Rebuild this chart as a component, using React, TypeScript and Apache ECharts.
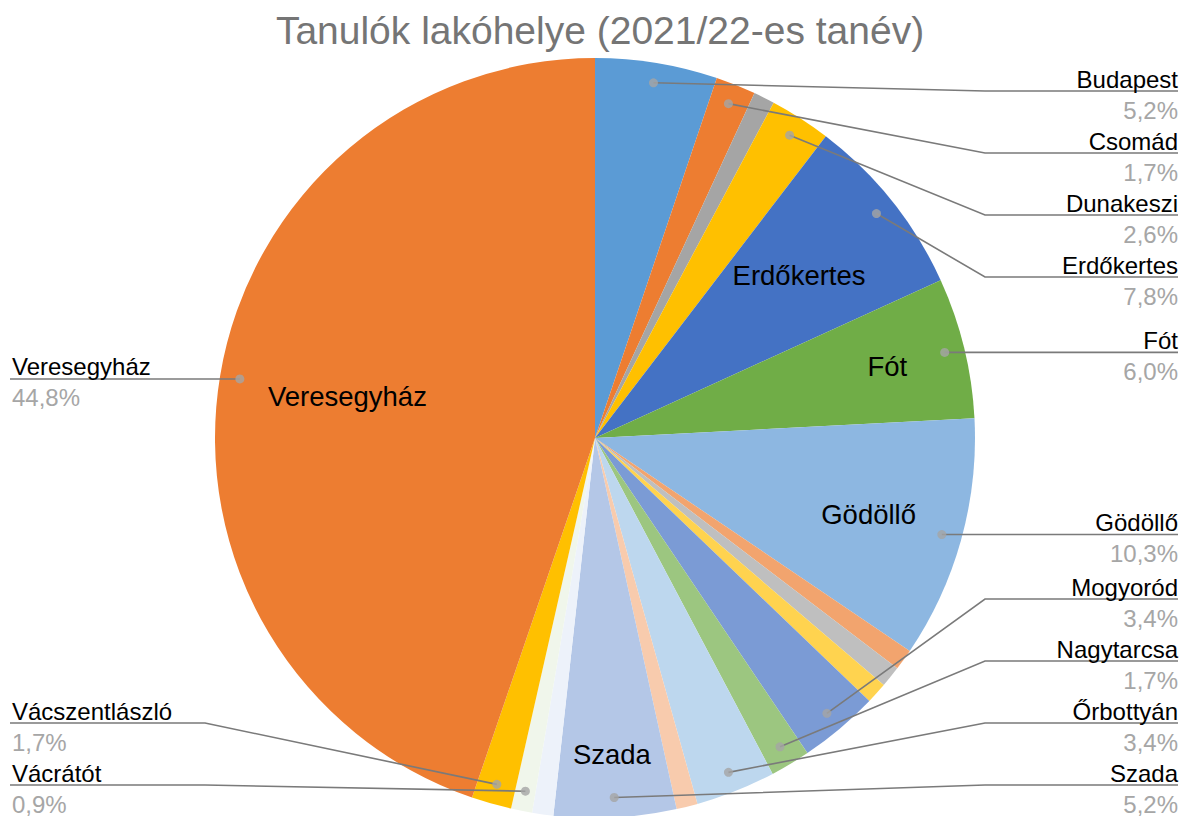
import React, { useEffect, useRef } from "react";
import * as echarts from "echarts";

// ---- data ----
const chartTitle = "Tanulók lakóhelye (2021/22-es tanév)";
const places = [
  "Budapest", "Csomád", "Csömör", "Dunakeszi", "Erdőkertes", "Fót", "Gödöllő",
  "Isaszeg", "Kerepes", "Kistarcsa", "Mogyoród", "Nagytarcsa", "Őrbottyán",
  "Pécel", "Szada", "Sződ", "Vácrátót", "Vácszentlászló", "Veresegyház",
];
const shares = [
  5.2, 1.7, 0.9, 2.6, 7.8, 6.0, 10.3,
  0.9, 0.9, 0.9, 3.4, 1.7, 3.4,
  0.9, 5.2, 0.9, 0.9, 1.7, 44.8,
];
const outerLabelled = [
  "Budapest", "Csomád", "Dunakeszi", "Erdőkertes", "Fót", "Gödöllő", "Mogyoród",
  "Nagytarcsa", "Őrbottyán", "Szada", "Vácrátót", "Vácszentlászló", "Veresegyház",
];
const innerLabelled = ["Erdőkertes", "Fót", "Gödöllő", "Szada", "Veresegyház"];

// ---- styles / layout ----
const sliceColors = [
  "#5B9BD5", "#ED7D31", "#A5A5A5", "#FFC000", "#4472C4", "#70AD47", "#8DB7E1",
  "#F2A46E", "#BFBFBF", "#FFD34F", "#7B9BD5", "#9CC680", "#BDD7EE",
  "#F8CBAD", "#B4C7E7", "#EDF2FA", "#F0F6EB", "#FFC000", "#ED7D31",
];
const W = 1181;
const H = 816;
const CX = 595;
const CY = 438;
const R = 380;
const DOT_R = 360;
const ELBOW_RIGHT = 985;
const ELBOW_LEFT = 205;
const LABEL_TOP = 91;
const LABEL_BOTTOM = 785;
const LABEL_GAP = 62;
const TEXT_RIGHT = W - 3;
const TEXT_LEFT = 12;
const LINE_LEFT = 10;
const innerLabelRadius: Record<string, number> = {
  Veresegyház: 251, Erdőkertes: 261, Fót: 301, Gödöllő: 284, Szada: 317,
};
const FONT = "'Liberation Sans', Arial, sans-serif";

const fmtPct = (v: number) => v.toFixed(1).replace(".", ",") + "%";

function stackSide(items: { name: string; ideal: number }[]) {
  const sorted = [...items].sort((a, b) => a.ideal - b.ideal);
  const ys = sorted.map((s) => s.ideal);
  for (let i = 0; i < ys.length; i++) {
    ys[i] = Math.max(ys[i], i === 0 ? LABEL_TOP : ys[i - 1] + LABEL_GAP);
  }
  for (let i = ys.length - 1; i >= 0; i--) {
    ys[i] = Math.min(ys[i], i === ys.length - 1 ? LABEL_BOTTOM : ys[i + 1] - LABEL_GAP);
  }
  const out: Record<string, number> = {};
  sorted.forEach((s, i) => (out[s.name] = ys[i]));
  return out;
}

export default function App() {
  const ref = useRef<HTMLDivElement>(null);
  useEffect(() => {
    if (!ref.current) return;
    const chart = echarts.init(ref.current, undefined, { renderer: "svg" });
    const total = shares.reduce((a, b) => a + b, 0);

    // angles of slice middles (from data), dot anchors and label slots
    let cum = 0;
    const dots: number[][] = [];
    const anchor: Record<string, { x: number; y: number; right: boolean }> = {};
    const rightItems: { name: string; ideal: number }[] = [];
    const leftItems: { name: string; ideal: number }[] = [];
    shares.forEach((v, i) => {
      const mid = cum + v / 2;
      cum += v;
      const name = places[i];
      if (!outerLabelled.includes(name)) return;
      dots.push([DOT_R, mid]);
      const th = (mid / total) * Math.PI * 2;
      const x = CX + DOT_R * Math.sin(th);
      const y = CY - DOT_R * Math.cos(th);
      const right = x >= CX;
      anchor[name] = { x, y, right };
      (right ? rightItems : leftItems).push({ name, ideal: y });
    });
    const slotY = { ...stackSide(rightItems), ...stackSide(leftItems) };

    const option: any = {
      animation: false,
      backgroundColor: "#fff",
      title: {
        text: chartTitle,
        left: CX,
        textAlign: "center",
        top: 6,
        textStyle: { fontSize: 39, fontWeight: "normal", color: "#757575", fontFamily: FONT },
      },
      polar: { center: [CX, CY], radius: R },
      angleAxis: { type: "value", min: 0, max: total, startAngle: 90, clockwise: true, show: false },
      radiusAxis: { type: "value", min: 0, max: R, show: false },
      series: [
        {
          type: "pie",
          center: [CX, CY],
          radius: R,
          startAngle: 90,
          clockwise: true,
          silent: true,
          z: 1,
          data: places.map((n, i) => ({
            name: n,
            value: shares[i],
            itemStyle: { color: sliceColors[i] },
            label: { show: innerLabelled.includes(n) },
          })),
          label: {
            position: "inside",
            formatter: "{b}",
            color: "#000",
            fontSize: 27.5,
            fontFamily: FONT,
          },
          labelLine: { show: false },
          labelLayout: (p: any) => {
            const name = places[p.dataIndex];
            const rho = innerLabelRadius[name];
            if (!rho || !p.labelRect) return {};
            const lx = p.labelRect.x + p.labelRect.width / 2;
            const ly = p.labelRect.y + p.labelRect.height / 2;
            const d = Math.hypot(lx - CX, ly - CY) || 1;
            return {
              x: CX + ((lx - CX) / d) * rho,
              y: CY + ((ly - CY) / d) * rho,
              align: "center",
              verticalAlign: "middle",
            };
          },
        },
        {
          type: "pie",
          center: [CX, CY],
          radius: DOT_R,
          startAngle: 90,
          clockwise: true,
          silent: true,
          z: 3,
          itemStyle: { color: "rgba(0,0,0,0)" },
          data: places.map((n, i) => ({
            name: n,
            value: shares[i],
            label: { show: outerLabelled.includes(n) },
            labelLine: { show: outerLabelled.includes(n) },
          })),
          label: {
            position: "outside",
            alignTo: "edge",
            edgeDistance: 4,
            formatter: (p: any) => `{n|${p.name}}\n{p|${fmtPct(p.value)}}`,
            rich: {
              n: { fontSize: 24, lineHeight: 31, color: "#000", fontFamily: FONT },
              p: { fontSize: 24, lineHeight: 24, color: "#A6A6A6", fontFamily: FONT, padding: [7, 0, 0, 0] },
            },
          },
          labelLine: {
            show: true,
            length: 0,
            length2: 0,
            lineStyle: { color: "#7A7A7A", width: 1.6 },
          },
          labelLayout: (p: any) => {
            const name = places[p.dataIndex];
            const a = anchor[name];
            if (!a) return {};
            const y = slotY[name];
            return {
              x: a.right ? TEXT_RIGHT : TEXT_LEFT,
              y,
              align: a.right ? "right" : "left",
              verticalAlign: "middle",
              labelLinePoints: [
                [a.x, a.y],
                [a.right ? ELBOW_RIGHT : ELBOW_LEFT, y],
                [a.right ? TEXT_RIGHT : LINE_LEFT, y],
              ],
            };
          },
        },
        {
          type: "scatter",
          coordinateSystem: "polar",
          silent: true,
          z: 5,
          symbol: "circle",
          symbolSize: 9,
          itemStyle: { color: "#A5A5A5" },
          data: dots,
        },
      ],
    };
    chart.setOption(option);
    return () => chart.dispose();
  }, []);
  return (
    <div
      ref={ref}
      style={{ position: "fixed", left: 0, top: 0, width: W, height: H }}
    />
  );
}
